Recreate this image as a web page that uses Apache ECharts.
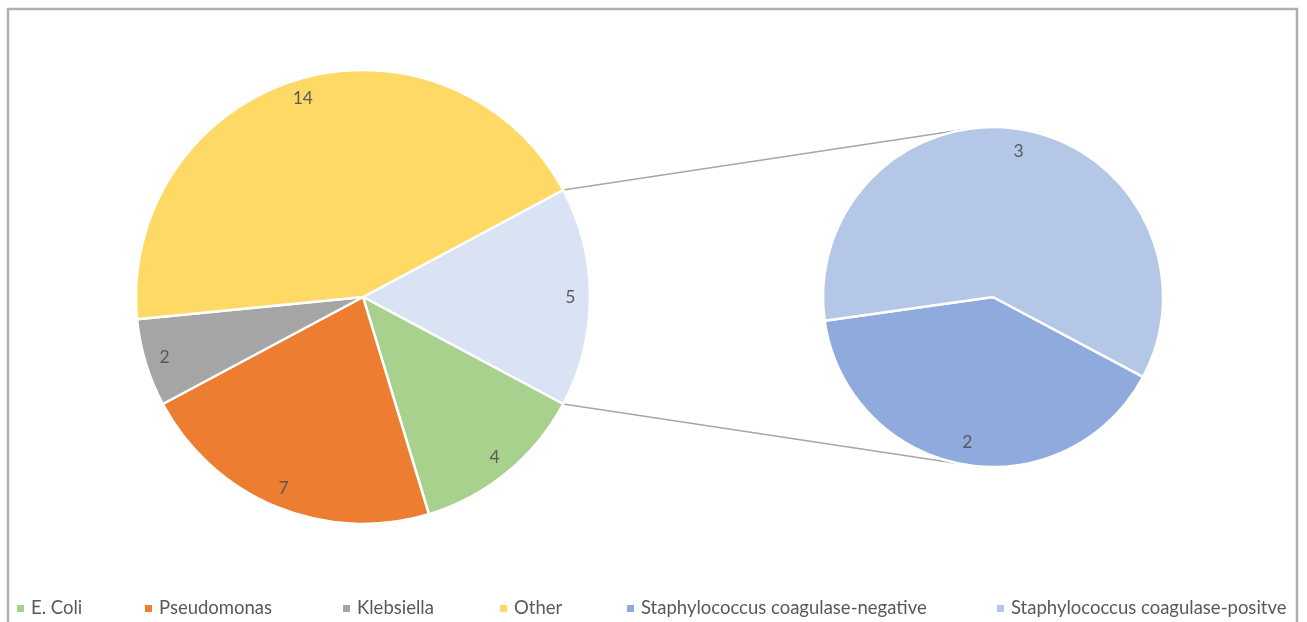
<!DOCTYPE html>
<html>
<head>
<meta charset="utf-8">
<script src="https://cdn.jsdelivr.net/npm/echarts@6/dist/echarts.min.js"></script>
<style>
  html, body { margin: 0; padding: 0; background: #ffffff; }
  #chart { width: 1307px; height: 622px; }
</style>
</head>
<body>
<div id="chart"></div>
<script>
// Isolates counted per organism (main pie)
const mainCategories = ['E. Coli', 'Pseudomonas', 'Klebsiella', 'Other'];
const mainValues = [4, 7, 2, 14];

// Staphylococcus isolates, split out into the secondary pie
const splitCategories = ['Staphylococcus coagulase-negative', 'Staphylococcus coagulase-positve'];
const splitValues = [2, 3];

// Styling
const palette = {
  'E. Coli': '#A9D18E',
  'Pseudomonas': '#ED7D31',
  'Klebsiella': '#A5A5A5',
  'Other': '#FFD966',
  'Staphylococcus coagulase-negative': '#8FAADC',
  'Staphylococcus coagulase-positve': '#B4C7E7',
  aggregate: '#DAE3F3'
};
const textColor = '#595959';
const fontFamily = 'Lato, "Liberation Sans", sans-serif';

// Layout of the two pies (pixels)
const mainCenter = [363, 297], mainRadius = 227;
const splitCenter = [993, 297], splitRadius = 170;
const splitStartAngle = 332; // orientation of the secondary pie

const aggregateValue = splitValues.reduce((a, b) => a + b, 0);
const mainTotal = mainValues.reduce((a, b) => a + b, 0) + aggregateValue;
// aggregated slice is centred on the right-hand side of the main pie
const mainStartAngle = 180 * aggregateValue / mainTotal;

const mainData = [{ name: 'Staphylococcus', value: aggregateValue, itemStyle: { color: palette.aggregate } }]
  .concat(mainCategories.map((n, i) => ({ name: n, value: mainValues[i], itemStyle: { color: palette[n] } })));
const splitData = splitCategories.map((n, i) => ({ name: n, value: splitValues[i], itemStyle: { color: palette[n] } }));

// Connector lines: from the edges of the aggregated slice, tangent to the secondary pie
function connector(sign) {
  const a = sign * mainStartAngle * Math.PI / 180;
  const px = mainCenter[0] + mainRadius * Math.cos(a);
  const py = mainCenter[1] - mainRadius * Math.sin(a);
  const dx = splitCenter[0] - px, dy = splitCenter[1] - py;
  const d = Math.hypot(dx, dy);
  const base = Math.atan2(dy, dx);
  const half = Math.asin(splitRadius / d);
  const len = Math.sqrt(d * d - splitRadius * splitRadius);
  const dir = sign > 0 ? base - half : base + half;
  return {
    type: 'line',
    z: -1,
    shape: { x1: px, y1: py, x2: px + len * Math.cos(dir), y2: py + len * Math.sin(dir) },
    style: { stroke: '#A6A6A6', lineWidth: 1.5 }
  };
}

const legendLeft = [12, 140, 338, 495, 622, 992];
const legends = mainCategories.concat(splitCategories).map((n, i) => ({
  data: [{ name: n, itemStyle: { color: palette[n], borderWidth: 0 } }],
  left: legendLeft[i],
  top: 594,
  icon: 'rect',
  itemWidth: 7,
  itemHeight: 7,
  selectedMode: false,
  textStyle: { color: textColor, fontSize: 18.5, fontFamily: fontFamily, padding: [0, 0, 0, 2] }
}));

const sliceStyle = { borderColor: '#ffffff', borderWidth: 2.5 };
const labelStyle = { show: true, position: 'inside', formatter: '{c}', color: textColor, fontSize: 17.5, fontFamily: fontFamily };

const option = {
  backgroundColor: '#ffffff',
  animation: false,
  legend: legends,
  graphic: [
    {
      type: 'rect',
      z: -2,
      shape: { x: 8, y: 9, width: 1289, height: 640 },
      style: { fill: 'none', stroke: '#AFAFAF', lineWidth: 2.5 }
    },
    connector(1),
    connector(-1)
  ],
  series: [
    {
      type: 'pie',
      center: mainCenter,
      radius: [0, mainRadius],
      startAngle: mainStartAngle,
      clockwise: true,
      data: mainData,
      label: { show: false },
      labelLine: { show: false },
      itemStyle: sliceStyle,
      emphasis: { disabled: true }
    },
    {
      // label ring for the main pie, placing the values near the outer edge
      type: 'pie',
      silent: true,
      center: mainCenter,
      radius: [mainRadius * 0.8, mainRadius],
      startAngle: mainStartAngle,
      clockwise: true,
      data: mainData.map(d => ({ value: d.value })),
      itemStyle: { color: 'rgba(0,0,0,0)' },
      label: labelStyle,
      labelLine: { show: false },
      emphasis: { disabled: true }
    },
    {
      type: 'pie',
      center: splitCenter,
      radius: [0, splitRadius],
      startAngle: splitStartAngle,
      clockwise: true,
      data: splitData,
      label: { show: false },
      labelLine: { show: false },
      itemStyle: sliceStyle,
      emphasis: { disabled: true }
    },
    {
      type: 'pie',
      silent: true,
      center: splitCenter,
      radius: [splitRadius * 0.7, splitRadius],
      startAngle: splitStartAngle,
      clockwise: true,
      data: splitData.map(d => ({ value: d.value })),
      itemStyle: { color: 'rgba(0,0,0,0)' },
      label: labelStyle,
      labelLine: { show: false },
      emphasis: { disabled: true }
    }
  ]
};

const chart = echarts.init(document.getElementById('chart'), null, { renderer: 'canvas' });
chart.setOption(option);
</script>
</body>
</html>
